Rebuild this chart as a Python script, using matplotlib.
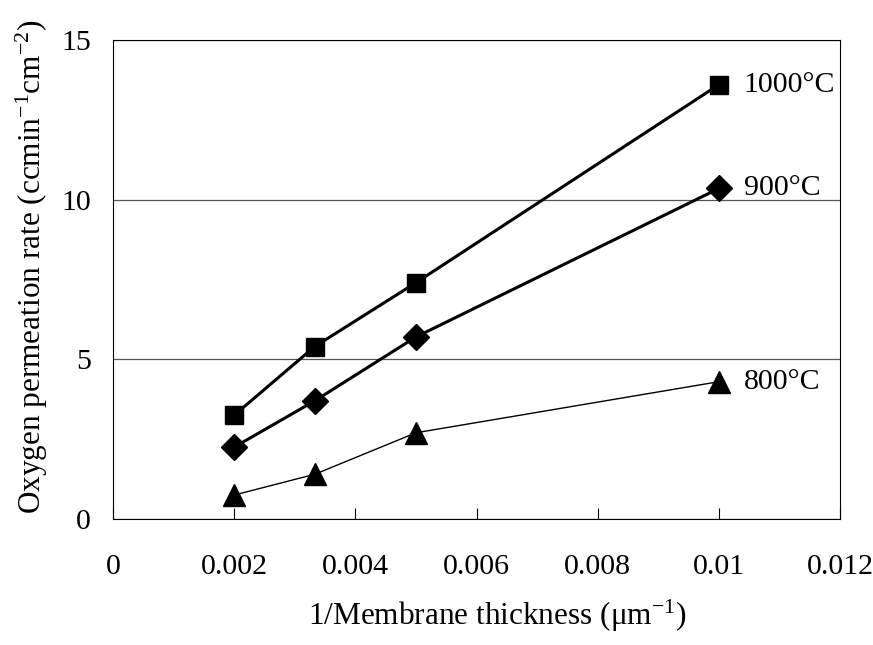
import numpy as np
import matplotlib as mpl
import matplotlib.pyplot as plt

mpl.rcParams.update({
    "font.family": ["Liberation Serif", "DejaVu Serif"],
    "mathtext.fontset": "custom",
    "mathtext.rm": "Liberation Serif",
    "mathtext.it": "Liberation Serif",
})

# inverse membrane thickness (1/um) and permeation rates per temperature
inv_thickness = [0.002, 0.00333, 0.005, 0.01]
rate_1000 = [3.25, 5.4, 7.4, 13.6]
rate_900 = [2.25, 3.7, 5.7, 10.35]
rate_800 = [0.75, 1.4, 2.7, 4.3]
labels = ["1000°C", "900°C", "800°C"]

x_ticks = [0, 0.002, 0.004, 0.006, 0.008, 0.01, 0.012]
x_tick_labels = ["0", "0.002", "0.004", "0.006", "0.008", "0.01", "0.012"]
y_ticks = [0, 5, 10, 15]

FS = 21.5

fig = plt.figure(figsize=(8.73, 6.45), dpi=100)
ax = fig.add_axes([113 / 873, 1 - 519 / 645, 727 / 873, 479 / 645])

series = [
    (rate_1000, "s", 12.5, 2.2),
    (rate_900, "D", 13, 2.2),
    (rate_800, "^", 16, 1.0),
]
for (y, mk, ms, lw), lab in zip(series, labels):
    ax.plot(inv_thickness, y, color="black", lw=lw, marker=mk, ms=ms,
            markeredgecolor="black", markerfacecolor="black", zorder=3)
    ax.annotate(lab, (inv_thickness[-1], y[-1]), xytext=(18, 0),
                textcoords="offset points", va="center", ha="left",
                fontsize=FS)

ax.set_xlim(0, 0.012)
ax.set_ylim(0, 15)
ax.set_xticks(x_ticks)
ax.set_xticklabels(x_tick_labels)
ax.set_yticks(y_ticks)
ax.tick_params(axis="x", direction="in", length=8, width=0.8, labelsize=FS, pad=25)
ax.tick_params(axis="y", direction="in", length=0, labelsize=FS, pad=16)
ax.yaxis.grid(True, color="#555555", lw=0.9)
ax.set_axisbelow(True)
for s in ax.spines.values():
    s.set_linewidth(0.8)

ax.set_xlabel(r"1/Membrane thickness ($\mathrm{\mu m^{-1}}$)", fontsize=22.5)
ax.xaxis.set_label_coords(0.528, -0.165)
ax.set_ylabel(r"Oxygen permeation rate (ccmin$^{-1}$cm$^{-2}$)", fontsize=22.5)
ax.yaxis.set_label_coords(-0.087, 0.526)

fig.savefig("out.png", dpi=100)
